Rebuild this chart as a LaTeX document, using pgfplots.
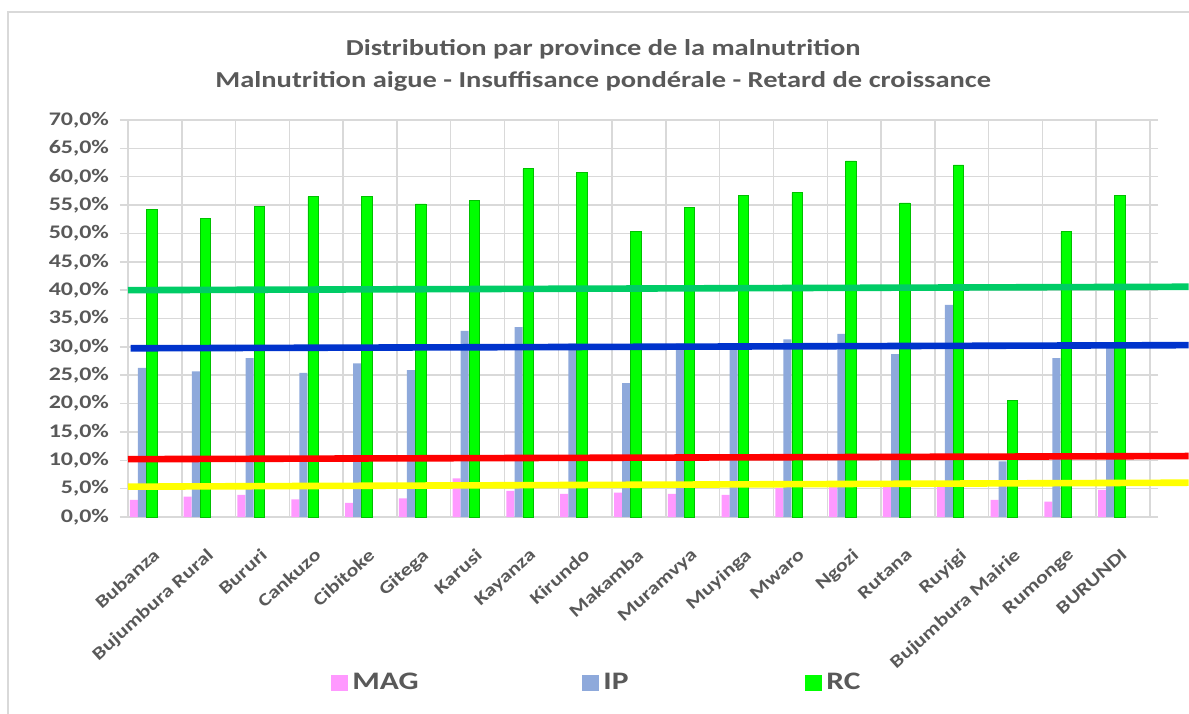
\documentclass[border=0pt]{standalone}
\usepackage{pgfplots}
\pgfplotsset{compat=1.18}
\usepackage{pgfplotstable}
\usepackage{fontspec}
\setmainfont{Carlito}[FakeStretch=1.25]
\definecolor{txtgray}{HTML}{595959}
\definecolor{gridgray}{HTML}{D9D9D9}
\definecolor{magpink}{HTML}{FF99FF}
\definecolor{ipblue}{HTML}{8EA9DB}
\definecolor{rcgreen}{HTML}{00FF00}
\definecolor{rcdark}{HTML}{00C000}
\definecolor{lteal}{HTML}{00CC66}
\definecolor{lblue}{HTML}{0033CC}
\definecolor{lred}{HTML}{FF0000}
\definecolor{lyellow}{HTML}{FFFF00}

\pgfplotstableread{
k MAG IP RC
0 3.0 26.3 54.3
1 3.6 25.7 52.7
2 3.9 28.0 54.7
3 3.1 25.4 56.5
4 2.5 27.1 56.5
5 3.3 25.9 55.2
6 6.8 32.8 55.8
7 4.6 33.5 61.4
8 4.1 30.6 60.7
9 4.3 23.6 50.4
10 4.1 30.6 54.6
11 3.9 30.5 56.7
12 5.1 31.3 57.2
13 5.3 32.3 62.8
14 5.3 28.7 55.4
15 5.5 37.4 62.1
16 3.0 9.8 20.5
17 2.7 28.0 50.3
18 4.8 29.9 56.7
}\datatable

\begin{document}
\begin{tikzpicture}
\useasboundingbox (-64pt,-98pt) rectangle (530.5pt,258.5pt);
\begin{axis}[
  scale only axis, width=511pt, height=198.5pt,
  xmin=0, xmax=19, ymin=0, ymax=70,
  clip=false,
  axis line style={draw=gridgray, line width=0.75pt},
  ytick={0,5,...,70},
  yticklabel={\pgfmathprintnumber[fixed,fixed zerofill,precision=1,use comma]{\tick}\%},
  /pgf/number format/assume math mode=true,
  ymajorgrids,
  grid style={draw=gridgray, line width=0.75pt},
  minor xtick={0,1,...,19},
  xminorgrids,
  minor grid style={draw=gridgray, line width=0.75pt},
  minor x tick style={draw=none},
  major x tick style={draw=none},
  ytick style={draw=gridgray, line width=0.75pt},
  tick align=outside, major tick length=4pt,
  xtick={0.45,1.45,...,18.45},
  xticklabels={Bubanza,Bujumbura Rural,Bururi,Cankuzo,Cibitoke,Gitega,Karusi,Kayanza,Kirundo,Makamba,Muramvya,Muyinga,Mwaro,Ngozi,Rutana,Ruyigi,Bujumbura Mairie,Rumonge,BURUNDI},
  xticklabel style={font=\bfseries\fontsize{8.9}{10}\selectfont, text=txtgray, inner sep=0pt, yshift=-11pt, rotate=42, anchor=north east},
  yticklabel style={font=\bfseries\fontsize{9.6}{11}\selectfont, text=txtgray, xshift=-2pt},
  legend columns=3,
  legend style={at={(rel axis cs:0,0)}, anchor=west, xshift=101.5pt, yshift=-83pt, draw=none, fill=none, inner sep=0pt,
    font=\bfseries\fontsize{12.6}{14}\selectfont, text=txtgray},
  legend image code/.code={\fill[#1,draw=none] (0pt,-4.2pt) rectangle (8.5pt,4.2pt);},
]
\addplot[ybar, bar width=4pt, bar shift=0pt, fill=magpink, draw=none]
  table[x expr=\thisrow{k}+0.11, y=MAG] {\datatable};
\addlegendentry{\makebox[113pt][l]{MAG}}
\addplot[ybar, bar width=4pt, bar shift=0pt, fill=ipblue, draw=none]
  table[x expr=\thisrow{k}+0.26, y=IP] {\datatable};
\addlegendentry{\makebox[99pt][l]{IP}}
\addplot[ybar, bar width=5.2pt, bar shift=0pt, fill=rcgreen, draw=rcdark, line width=0.3pt]
  table[x expr=\thisrow{k}+0.44, y=RC] {\datatable};
\addlegendentry{\makebox[20pt][l]{RC}}
\addplot[lteal, line width=3.3pt, forget plot] coordinates {(0,40.0) (19.72,40.6)};
\addplot[lblue, line width=3.3pt, forget plot] coordinates {(0.05,29.75) (19.72,30.3)};
\addplot[lred, line width=3.3pt, forget plot] coordinates {(0,10.2) (19.72,10.75)};
\addplot[lyellow, line width=3.3pt, forget plot] coordinates {(0,5.35) (19.72,6.05)};
\node[anchor=base, font=\bfseries\fontsize{11.4}{13}\selectfont, text=txtgray, yshift=32.5pt] at (rel axis cs:0.465,1) {Distribution par province de la malnutrition};
\node[anchor=base, font=\bfseries\fontsize{11.4}{13}\selectfont, text=txtgray, yshift=16.5pt] at (rel axis cs:0.465,1) {Malnutrition aigue - Insuffisance pondérale - Retard de croissance};
\end{axis}
\draw[gridgray, line width=0.75pt] (-60pt,-120pt) -- (-60pt,252.5pt) -- (560pt,252.5pt);
\end{tikzpicture}
\end{document}
